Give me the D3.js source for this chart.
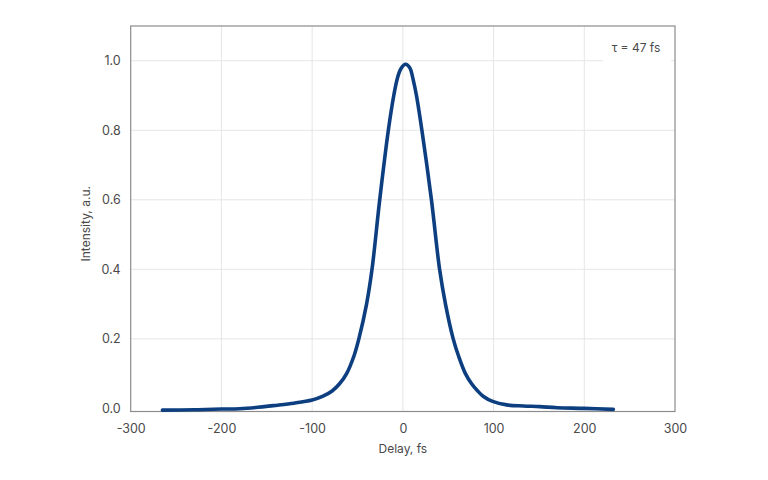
<!DOCTYPE html>
<html>
<head>
<meta charset="utf-8">
<script src="https://cdn.jsdelivr.net/npm/d3@7"></script>
<style>
  html, body { margin: 0; padding: 0; background: #fff; }
  svg { display: block; }
  text { font-family: Inter, "Open Sans", sans-serif; fill: #4a4a4a; }
</style>
</head>
<body>
<svg id="chart" width="768" height="480"></svg>
<script>
// Delay (fs) and intensity (a.u.)
const delay = [-265, -230, -200, -180, -160, -143, -120, -100, -88, -78, -70, -62, -54, -48.5,
  -40, -34, -25.5, -16, -10, -6, -2, 3, 8, 11, 15, 21, 31.5, 40.5, 47, 55.5, 61.5, 69, 76, 82.5, 88.5,
  99, 114.5, 133, 151, 170, 200, 232];
const intensity = [-0.005, -0.004, -0.002, -0.001, 0.003, 0.008, 0.015, 0.024, 0.035, 0.05, 0.07, 0.1, 0.15, 0.2,
  0.3, 0.4, 0.6, 0.8, 0.9, 0.95, 0.978, 0.99, 0.978, 0.95, 0.9, 0.8, 0.6, 0.4, 0.3, 0.2, 0.15, 0.1, 0.07, 0.05, 0.035,
  0.02, 0.010, 0.007, 0.005, 0.002, 0.0, -0.003];
const xTicks = [-300, -200, -100, 0, 100, 200, 300];
const yTicks = [0.0, 0.2, 0.4, 0.6, 0.8, 1.0];
const xLabel = "Delay, fs";
const yLabel = "Intensity, a.u.";
const legendText = "τ = 47 fs";

const svg = d3.select("#chart");
const L = 130.7, R = 675, T = 26, B = 411.5;
const x = d3.scaleLinear().domain([-300, 300]).range([L, R]);
const y = d3.scaleLinear().domain([-0.009, 1.1]).range([B, T]);

// grid
svg.append("g").selectAll("line.vg").data(xTicks.slice(1, -1)).join("line")
  .attr("x1", d => x(d)).attr("x2", d => x(d)).attr("y1", T).attr("y2", B)
  .attr("stroke", "#e6e6e6").attr("stroke-width", 1);
svg.append("g").selectAll("line.hg").data(yTicks.slice(1)).join("line")
  .attr("x1", L).attr("x2", R).attr("y1", d => y(d)).attr("y2", d => y(d))
  .attr("stroke", "#e6e6e6").attr("stroke-width", 1);

// frame
svg.append("rect").attr("x", L).attr("y", T).attr("width", R - L).attr("height", B - T)
  .attr("fill", "none").attr("stroke", "#8c8c8c").attr("stroke-width", 1.2);

// axes (labels only)
const xAxis = svg.append("g").attr("transform", `translate(0,${B})`)
  .call(d3.axisBottom(x).tickValues(xTicks).tickSize(0).tickPadding(13).tickFormat(d => String(d)));
xAxis.select(".domain").remove();
xAxis.selectAll("text").style("font-size", "12.5px").attr("fill", "#4a4a4a");

const yAxis = svg.append("g").attr("transform", `translate(${L},0)`)
  .call(d3.axisLeft(y).tickValues(yTicks).tickSize(0).tickPadding(10).tickFormat(d => d.toFixed(1)));
yAxis.select(".domain").remove();
yAxis.selectAll("text").style("font-size", "12.5px").attr("fill", "#4a4a4a");

// axis titles
svg.append("text").attr("x", (L + R) / 2).attr("y", 453).attr("text-anchor", "middle")
  .style("font-size", "12px").text(xLabel);
svg.append("text").attr("transform", `translate(90,${(T + B) / 2 + 5}) rotate(-90)`)
  .attr("text-anchor", "middle").style("font-size", "12px").text(yLabel);

// curve
const pts = delay.map((d, i) => [d, intensity[i]]);
svg.append("path").datum(pts)
  .attr("fill", "none").attr("stroke", "#0d3f80").attr("stroke-width", 3.6)
  .attr("stroke-linejoin", "round").attr("stroke-linecap", "round")
  .attr("d", d3.line().x(d => x(d[0])).y(d => y(d[1])).curve(d3.curveCatmullRom.alpha(0.5)));

// legend
svg.append("rect").attr("x", 603).attr("y", 32).attr("width", 68).attr("height", 32).attr("fill", "#fff");
svg.append("text").attr("x", 636).attr("y", 52).attr("text-anchor", "middle")
  .style("font-size", "12px").text(legendText);
</script>
</body>
</html>
